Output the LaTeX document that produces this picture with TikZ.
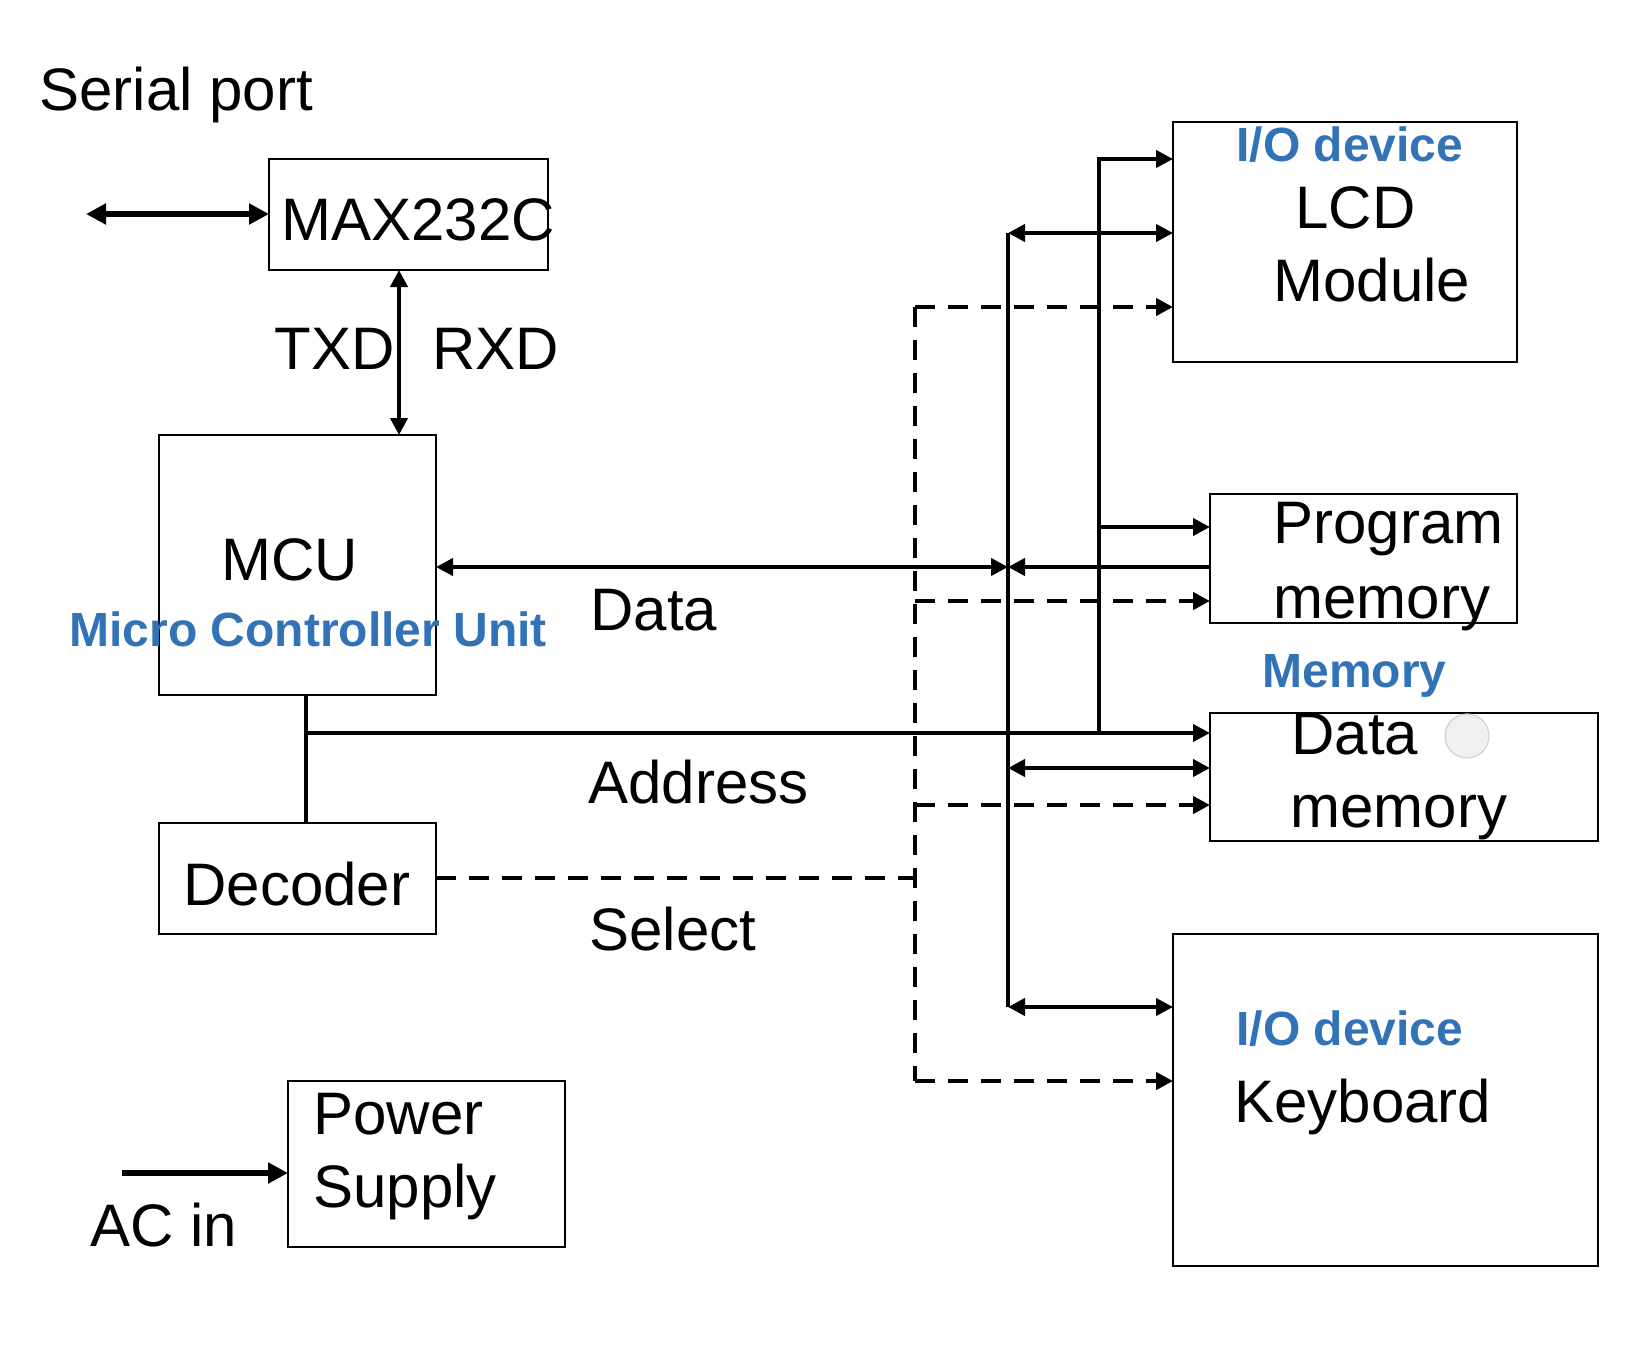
\documentclass[tikz,border=0pt]{standalone}
\usepackage{fontspec}
\setmainfont{Liberation Sans}
\usetikzlibrary{arrows.meta}
\definecolor{ublue}{RGB}{50,115,183}
\begin{document}
\begin{tikzpicture}[x=0.5pt,y=-0.5pt,
  box/.style={draw,line width=1pt,inner sep=0,outer sep=0,anchor=north west},
  txt/.style={anchor=base west,inner sep=0,font=\fontsize{30pt}{36pt}\selectfont},
  btxt/.style={anchor=base west,inner sep=0,text=ublue,font=\fontsize{24pt}{28pt}\selectfont\bfseries},
  conn/.style={line width=2pt},
  thick conn/.style={line width=2.6pt},
  sel/.style={line width=2.3pt,dash pattern=on 10pt off 6.5pt},
  >={Triangle[length=8.5pt,width=8.5pt]}]
\fill[white] (0,0) rectangle (1634,1356);
\useasboundingbox (0,0) rectangle (1634,1356);

% boxes
\node[box,minimum width=139.5pt,minimum height=55.5pt] (max) at (269,159) {};
\node[box,minimum width=138.5pt,minimum height=130pt] (mcu) at (159,435) {};
\node[box,minimum width=138.5pt,minimum height=55.5pt] (dec) at (159,823) {};
\node[box,minimum width=138.5pt,minimum height=83pt] (pow) at (288,1081) {};
\node[box,minimum width=172pt,minimum height=120pt] (lcd) at (1173,122) {};
\node[box,minimum width=153.5pt,minimum height=64.5pt] (prog) at (1210,494) {};
\node[box,minimum width=194pt,minimum height=64pt] (dmem) at (1210,713) {};
\node[box,minimum width=212.5pt,minimum height=166pt] (kbd) at (1173,934) {};

% texts
\node[txt] (tserial) at (39,110) {Serial port};
\node[txt] (tmax) at (281,240) {MAX232C};
\node[txt] (ttxd) at (274,369) {TXD};
\node[txt] (trxd) at (432,369) {RXD};
\node[txt] (tmcu) at (221,580) {MCU};
\node[btxt] (tmcul) at (69,646) {Micro Controller Unit};
\node[txt] (tdata) at (590,630) {Data};
\node[txt] (taddr) at (588,803) {Address};
\node[txt] (tdec) at (183,905) {Decoder};
\node[txt] (tsel) at (589,950) {Select};
\node[txt] (tpow1) at (313,1134) {Power};
\node[txt] (tpow2) at (313,1207) {Supply};
\node[txt] (tac) at (90,1246) {AC in};
\node[btxt] (tio1) at (1236,161) {I/O device};
\node[txt] (tlcd1) at (1295,228) {LCD};
\node[txt] (tlcd2) at (1273,301) {Module};
\node[txt] (tprog1) at (1273,543) {Program};
\node[txt] (tprog2) at (1273,618) {memory};
\node[btxt] (tmem) at (1262,687) {Memory};
\node[txt] (tdm1) at (1291,754) {Data};
\node[txt] (tdm2) at (1290,827) {memory};
\node[btxt] (tio2) at (1236,1045) {I/O device};
\node[txt] (tkbd) at (1234,1122) {Keyboard};
\node[circle,draw=gray!35,fill=gray!12,line width=0.6pt,minimum size=22pt,inner sep=0] (dot) at (1467,736) {};

% coordinates
\coordinate (sp) at (86,214);
\coordinate (txx) at (399,400);
\coordinate (bdata) at (1008,567);
\coordinate (btop) at (1008,233);
\coordinate (bdm) at (1008,768);
\coordinate (bbot) at (1008,1007);
\coordinate (ax) at (306,733);
\coordinate (ab) at (1099,733);
\coordinate (atop) at (1099,159);
\coordinate (apm) at (1099,527);
\coordinate (sx) at (915,878);
\coordinate (s1) at (915,307);
\coordinate (s2) at (915,601);
\coordinate (s3) at (915,805);
\coordinate (s4) at (915,1081);
\coordinate (acs) at (122,1173);

% serial / power
\draw[thick conn,<->,>={Triangle[length=10pt,width=10pt]}] (sp) -- (sp -| max.west);
\draw[conn,<->] (max.south -| txx) -- (mcu.north -| txx);
\draw[thick conn,->,>={Triangle[length=10pt,width=10pt]}] (acs) -- (acs -| pow.west);

% data bus
\draw[conn,<->] (mcu.east |- bdata) -- (bdata);
\draw[conn,->] (prog.west |- bdata) -- (bdata);
\draw[conn] (btop) -- (bbot);
\draw[conn,<->] (btop) -- (btop -| lcd.west);
\draw[conn,<->] (bdm) -- (bdm -| dmem.west);
\draw[conn,<->] (bbot) -- (bbot -| kbd.west);

% address bus
\draw[conn] (mcu.south -| ax) -- (dec.north -| ax);
\draw[conn,->] (ax) -- (ax -| dmem.west);
\draw[conn,->] (ab) -- (atop) -- (atop -| lcd.west);
\draw[conn,->] (apm) -- (apm -| prog.west);

% select lines
\draw[sel] (dec.east |- sx) -- (sx);
\draw[sel] (s1) -- (s4);
\draw[sel,->] (s1) -- (s1 -| lcd.west);
\draw[sel,->] (s2) -- (s2 -| prog.west);
\draw[sel,->] (s3) -- (s3 -| dmem.west);
\draw[sel,->] (s4) -- (s4 -| kbd.west);
\end{tikzpicture}
\end{document}
